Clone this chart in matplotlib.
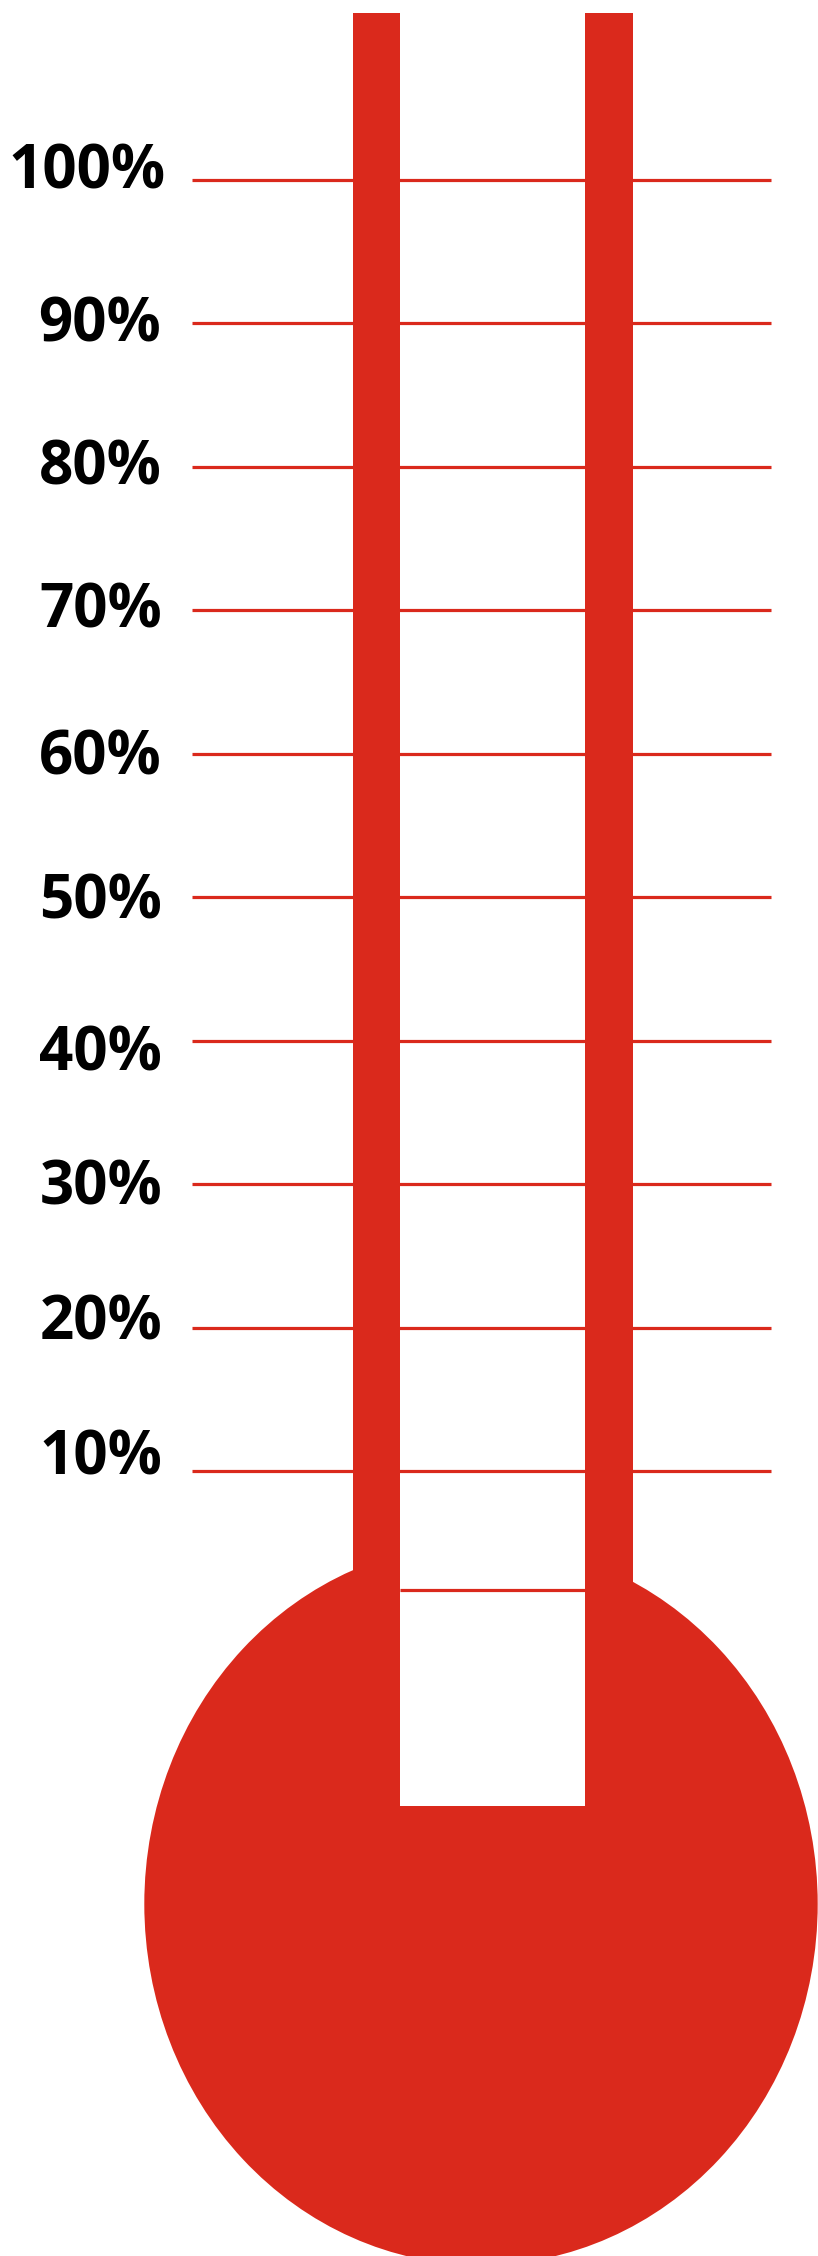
import matplotlib
matplotlib.use("Agg")
import matplotlib.pyplot as plt
from matplotlib.patches import Ellipse, Rectangle

# ---------------- data ----------------
tick_values = [10, 20, 30, 40, 50, 60, 70, 80, 90, 100]
tick_labels = ["10%", "20%", "30%", "40%", "50%", "60%", "70%", "80%", "90%", "100%"]
level_value = 1.7          # level mark drawn inside the bulb channel (percent)

# ---------------- layout (pixels of the 818x2256 canvas) ----------------
W, H = 818, 2256
PX_PER_PCT = 14.344        # vertical pixels per percent
ZERO_Y_PX = 1614.4         # pixel row of 0 %
label_right_px = 162.0
# baseline of each label below its grid line, pixels (hand-placed in the original)
label_baseline_off_px = [4, 12, 20, 30, 21, 21, 17, 18, 18, 8]
label_right_extra_px = [0, 0, 0, 0, 0, 0, 0, 0, -1, 3.5]

RED = "#DA291C"


def dp(px):
    return px / PX_PER_PCT


def y2p(ypx):
    return (ZERO_Y_PX - ypx) / PX_PER_PCT


fig = plt.figure(figsize=(W / 100, H / 100), dpi=100)
ax = fig.add_axes([0, 0, 1, 1])
ax.set_xlim(0, W)
ax.set_ylim(y2p(H), y2p(0))
ax.axis("off")

tube_top = y2p(12.7)
tube_bottom = y2p(1720)
left_tube = (352.6, 400.1)
right_tube = (584.8, 632.8)

# bulb
bulb_cx, bulb_cy = 481.0, y2p(1904)
bulb_w, bulb_h = 673.4, dp(2 * 361)
ax.add_patch(Ellipse((bulb_cx, bulb_cy), bulb_w, bulb_h, facecolor=RED,
                     edgecolor="none", zorder=1))

# white channel between the tubes
chan_bottom = y2p(1805.7)
ax.add_patch(Rectangle((left_tube[1], chan_bottom), right_tube[0] - left_tube[1],
                       tube_top - chan_bottom, facecolor="white",
                       edgecolor="none", zorder=2))

# grid lines
ax.hlines(tick_values, 191.5, 771.0, colors=RED, linewidth=2.3, zorder=3)
# level mark in the channel
ax.hlines([level_value], left_tube[1], right_tube[0], colors=RED,
          linewidth=2.3, zorder=3)

# tubes
for x0, x1 in (left_tube, right_tube):
    ax.add_patch(Rectangle((x0, tube_bottom), x1 - x0, tube_top - tube_bottom,
                           facecolor=RED, edgecolor="none", zorder=4))

# labels
for v, lab, off, dx in zip(tick_values, tick_labels, label_baseline_off_px,
                           label_right_extra_px):
    ax.text(label_right_px + dx, v - dp(off), lab, ha="right", va="baseline",
            fontsize=43.3, fontweight="bold", family=["Open Sans", "DejaVu Sans"],
            color="black", zorder=5)

fig.savefig("out.png", dpi=100, facecolor="white")
